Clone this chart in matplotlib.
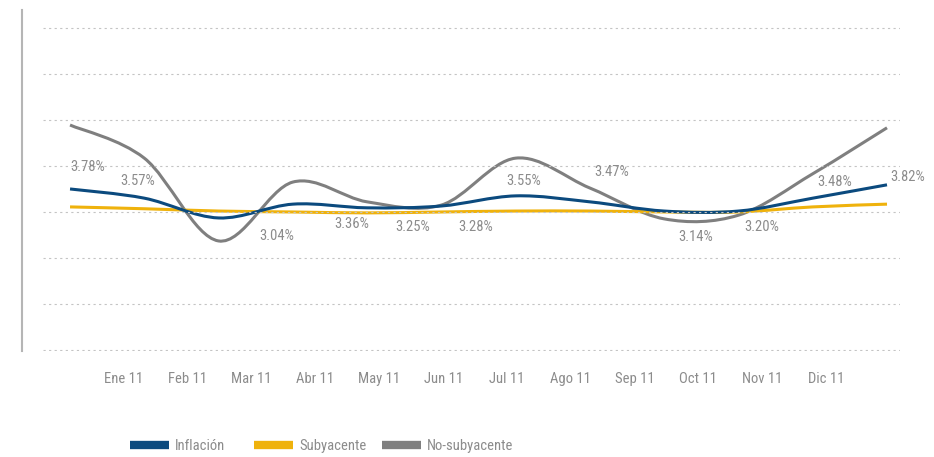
import numpy as np
import matplotlib
matplotlib.use("Agg")
import matplotlib.pyplot as plt
from matplotlib.path import Path
from matplotlib.patches import PathPatch
from matplotlib.lines import Line2D
from matplotlib import font_manager

meses = ["Ene 11", "Feb 11", "Mar 11", "Abr 11", "May 11", "Jun 11",
         "Jul 11", "Ago 11", "Sep 11", "Oct 11", "Nov 11", "Dic 11"]

# values as drawn in the chart (grid = 1 unit)
inflacion = [3.50, 3.30, 2.87, 3.17, 3.09, 3.13, 3.35, 3.22, 3.02, 3.02, 3.30, 3.59]
subyacente = [3.11, 3.07, 3.02, 3.00, 2.98, 3.00, 3.02, 3.02, 3.00, 3.00, 3.11, 3.17]
no_subyacente = [4.89, 4.17, 2.37, 3.65, 3.22, 3.15, 4.17, 3.52, 2.85, 2.93, 3.83, 4.83]

etiquetas = ["3.78%", "3.57%", "3.04%", "3.36%", "3.25%", "3.28%",
             "3.55%", "3.47%", "3.14%", "3.20%", "3.48%", "3.82%"]

# label offsets from the Inflación points (pixels)
off_x = [18, -7, 58, 59, 46, 34, 8, 22, 31, 23, 22, 21]
off_y = [22, 17, -18, -20, -19, -21, 15, 30, -26, -16, 16, 8]

series = ["Inflación", "Subyacente", "No-subyacente"]
azul = "#0b4a7e"
amarillo = "#efb20c"
gris = "#7f7f7f"
texto = "#8c8c8c"

# narrow face if one is installed
nombres = {f.name for f in font_manager.fontManager.ttflist}
fuente = [n for n in ["Liberation Sans Narrow", "Roboto Condensed", "DejaVu Sans Condensed"]
          if n in nombres] + ["DejaVu Sans"]


def smooth_path(x, y):
    pts = np.column_stack([x, y]).astype(float)
    verts = [pts[0]]
    codes = [Path.MOVETO]
    n = len(pts)
    for i in range(n - 1):
        p0 = pts[i - 1] if i > 0 else pts[i]
        p1 = pts[i]
        p2 = pts[i + 1]
        p3 = pts[i + 2] if i + 2 < n else pts[i + 1]
        verts += [p1 + (p2 - p0) / 6, p2 - (p3 - p1) / 6, p2]
        codes += [Path.CURVE4] * 3
    return Path(verts, codes)


fig = plt.figure(figsize=(9.34, 4.57), dpi=100)
ax = fig.add_axes([43 / 934, 106 / 457, 857 / 934, 341 / 457])

x = np.arange(len(meses))
for serie, color in [(no_subyacente, gris), (subyacente, amarillo), (inflacion, azul)]:
    ax.add_patch(PathPatch(smooth_path(x, serie), fill=False, edgecolor=color,
                           lw=2.2, capstyle="butt", transform=ax.transData))

for i, lab in enumerate(etiquetas):
    ax.annotate(lab, (x[i], inflacion[i]), xytext=(off_x[i], off_y[i]),
                textcoords="offset pixels", ha="center", va="center",
                color=texto, fontsize=10.5, family=fuente)

ax.set_xlim(-0.364, 11.175)
ax.set_ylim(-0.022, 7.39)
ax.set_yticks(range(8))
ax.set_yticklabels([])
ax.yaxis.grid(True, linestyle=(0, (2, 3)), color="#c4c4c4", lw=0.8)
ax.tick_params(axis="y", length=0)

ax.set_xticks(np.linspace(0.727, 10.179, len(meses)))
ax.set_xticklabels(meses, family=fuente, fontsize=10.5, color=texto)
ax.tick_params(axis="x", length=0, pad=15)

for s in ["top", "right", "bottom"]:
    ax.spines[s].set_visible(False)
ax.spines["left"].set_position(("outward", 15))
ax.spines["left"].set_color("#b5b5b5")
ax.spines["left"].set_linewidth(1.5)

# legend entries at their own positions along the bottom
for nombre, color, px in zip(series, (azul, amarillo, gris), (130, 254, 382)):
    h = Line2D([], [], color=color, lw=6, solid_capstyle="butt")
    fig.legend([h], [nombre], loc="center left",
               bbox_to_anchor=(px / 934, 1 - 446 / 457), frameon=False,
               borderaxespad=0, borderpad=0, handlelength=2.7, handletextpad=0.4,
               prop={"family": fuente, "size": 10.5}, labelcolor=texto)

fig.savefig("out.png", dpi=100)
